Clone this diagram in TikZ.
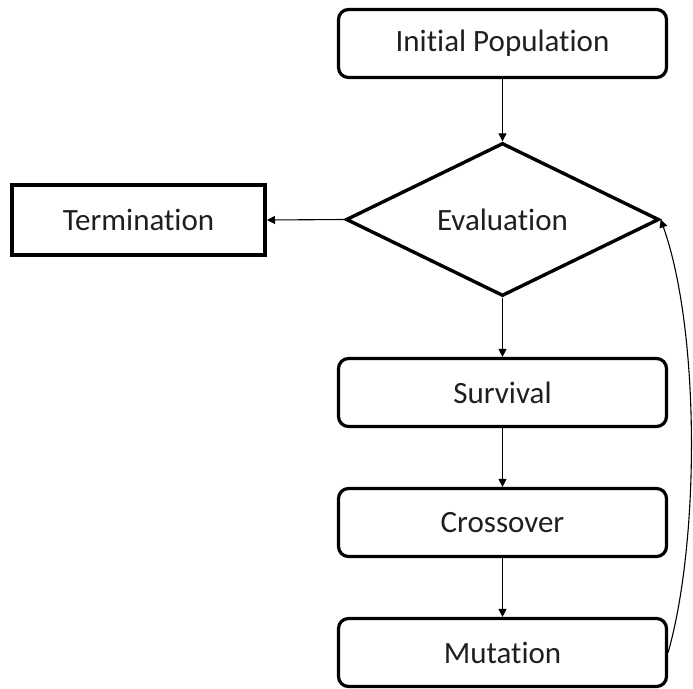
\documentclass[tikz,border=0pt]{standalone}
\usepackage{fontspec}
\setmainfont{Carlito}[Ligatures=NoCommon]
\usetikzlibrary{shapes.geometric,arrows.meta}

\begin{document}
\begin{tikzpicture}[x=1pt,y=-1pt,
  every node/.style={font=\fontsize{31}{37}\selectfont, text=black!88},
  stepbox/.style={draw, line width=3.2pt, rounded corners=10pt, inner sep=0pt,
    minimum width=328pt, minimum height=68pt},
  endbox/.style={draw, line width=4pt, inner sep=0pt,
    minimum width=253pt, minimum height=70pt},
  testbox/.style={draw, diamond, line width=3.4pt, inner sep=0pt,
    minimum width=313pt, minimum height=153pt},
  flow/.style={line width=1.1pt, -{Triangle[length=8pt,width=8pt]}}
]
\useasboundingbox (0,0) rectangle (693,688);

\node[stepbox] (ip)   at (502.5, 43.5)  {Initial Population};
\node[testbox] (eval) at (502.5, 219.5) {Evaluation};
\node[endbox]  (term) at (138.5, 220)   {Termination};
\node[stepbox] (surv) at (502.5, 392.5) {Survival};
\node[stepbox] (cross) at (502.5, 522.5) {Crossover};
\node[stepbox] (mut)  at (502.5, 652.5) {Mutation};

\draw[flow] (ip.south) -- (eval.north);
\draw[flow] (eval.west) -- (term.east);
\draw[flow] (eval.south) -- (surv.north);
\draw[flow] (surv.south) -- (cross.north);
\draw[flow] (cross.south) -- (mut.north);
\draw[flow] (mut.east) .. controls (700,540) and (700,330) .. (eval.east);
\end{tikzpicture}
\end{document}
